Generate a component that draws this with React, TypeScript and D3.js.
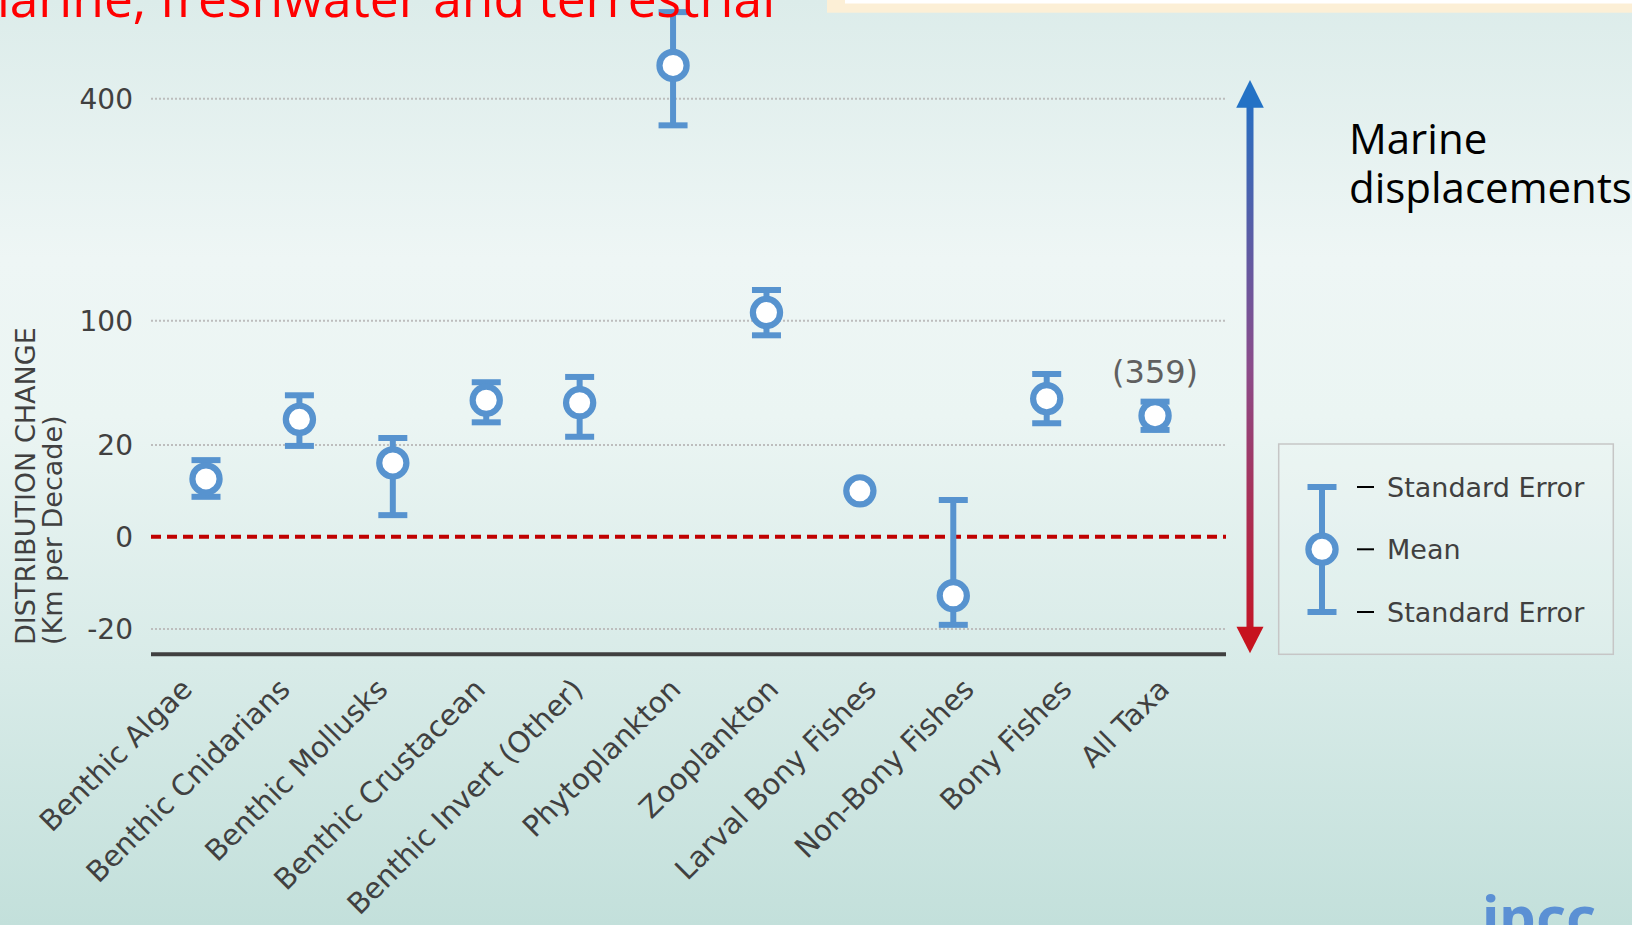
import React from "react";
import * as d3 from "d3";

// Marine taxa: mean range shift and standard error bounds (km per decade)
const categories = [
  "Benthic Algae",
  "Benthic Cnidarians",
  "Benthic Mollusks",
  "Benthic Crustacean",
  "Benthic Invert (Other)",
  "Phytoplankton",
  "Zooplankton",
  "Larval Bony Fishes",
  "Non-Bony Fishes",
  "Bony Fishes",
  "All Taxa",
];
const means = [12.6, 36.5, 16.1, 48.8, 47.2, 445, 111, 10.0, -12.8, 49.8, 38.9];
const seLow: (number | null)[] = [8.7, 19.8, 4.7, 34.6, 25.3, 364, 90.6, null, -19.1, 34.0, 29.7];
const seHigh: (number | null)[] = [16.7, 52, 24.5, 60.4, 63.8, 517, 141.5, null, 8.0, 65.7, 47.9];
const countLabels: (string | null)[] = [null, null, null, null, null, null, null, null, null, null, "(359)"];

// Axis ticks (the axis is stretched piecewise between these values)
const yTicks = [-20, 0, 20, 100, 400];
const yTickLabels = ["-20", "0", "20", "100", "400"];

const legendItems = ["Standard Error", "Mean", "Standard Error"];

const W = 1632;
const H = 925;
const LEFT = 151;
const RIGHT = 1226;
const AXIS_Y = 654.3;
const BLUE = "#5793cf";
const GREY_TEXT = "#404040";
const AXIS_FONT = "'DejaVu Sans', Verdana, sans-serif";
// extra spacing (in slots) that sets the pooled "All Taxa" estimate apart
const SUMMARY_GAP = 0.16;

export default function App() {
  const y = d3
    .scaleLinear()
    .domain(yTicks)
    .range([629, 536.7, 445, 320.7, 98.7]);

  const xLabel = d3.scaleBand().domain(categories).range([LEFT, RIGHT]);
  const lastGroup = categories.length - 2;
  const xSlot = d3.scaleLinear().domain([0, lastGroup]).range([206, 1046.7]);
  const xMark = (i: number) =>
    xSlot(i === categories.length - 1 ? i + SUMMARY_GAP : i);

  const rows = categories.map((c, i) => ({
    c,
    i,
    mean: means[i],
    lo: seLow[i],
    hi: seHigh[i],
    count: countLabels[i],
  }));

  const capHalf = 14.5;
  const r = 13.6;

  // legend symbol geometry
  const lgX = 1322;
  const lgTop = 487;
  const lgMid = 549.3;
  const lgBot = 612;
  const lgRows = [lgTop, lgMid, lgBot];

  return (
    <div style={{ position: "absolute", left: 0, top: 0, width: W, height: H, overflow: "hidden" }}>
      <svg width={W} height={H} style={{ display: "block" }}>
        <defs>
          <linearGradient id="bg" x1="0" y1="0" x2="0" y2="1">
            <stop offset="0" stopColor="#dcecea" />
            <stop offset="0.28" stopColor="#eef6f5" />
            <stop offset="0.45" stopColor="#ebf5f3" />
            <stop offset="0.72" stopColor="#d8ebe8" />
            <stop offset="1" stopColor="#c3e0db" />
          </linearGradient>
          <linearGradient id="arrowGrad" gradientUnits="userSpaceOnUse" x1="0" y1="80" x2="0" y2="653">
            <stop offset="0" stopColor="#1f71c6" />
            <stop offset="0.5" stopColor="#8b4c8b" />
            <stop offset="1" stopColor="#c8121f" />
          </linearGradient>
        </defs>

        <rect x={0} y={0} width={W} height={H} fill="url(#bg)" />

        {/* framed panel at top right */}
        <rect x={827} y={-120} width={900} height={132.7} fill="#fcefd6" />
        <rect x={845} y={-120} width={900} height={123.5} fill="#ffffff" />

        {/* grid lines */}
        {yTicks.map((t) =>
          t === 0 ? null : (
            <line
              key={`g${t}`}
              x1={LEFT}
              x2={RIGHT}
              y1={y(t)}
              y2={y(t)}
              stroke="#bdbdbd"
              strokeWidth={2}
              strokeDasharray="2,2"
            />
          )
        )}
        {/* zero line */}
        <line
          x1={LEFT}
          x2={RIGHT}
          y1={y(0)}
          y2={y(0)}
          stroke="#c00000"
          strokeWidth={4}
          strokeDasharray="10,6"
        />
        {/* baseline */}
        <line x1={LEFT} x2={RIGHT} y1={AXIS_Y} y2={AXIS_Y} stroke="#404040" strokeWidth={4} />

        {/* tick labels */}
        {yTicks.map((t, i) => (
          <text
            key={`t${t}`}
            x={133}
            y={y(t)}
            dy="0.36em"
            textAnchor="end"
            fontFamily={AXIS_FONT}
            fontSize={28}
            fill={GREY_TEXT}
          >
            {yTickLabels[i]}
          </text>
        ))}

        {/* axis title */}
        <text
          transform="translate(35,645) rotate(-90)"
          fontFamily={AXIS_FONT}
          fontSize={27}
          fill={GREY_TEXT}
        >
          DISTRIBUTION CHANGE
        </text>
        <text
          transform="translate(62,645) rotate(-90)"
          fontFamily={AXIS_FONT}
          fontSize={27}
          fill={GREY_TEXT}
        >
          (Km per Decade)
        </text>

        {/* category labels */}
        {categories.map((c) => {
          const cx = (xLabel(c) as number) + xLabel.bandwidth() / 2 - 6;
          return (
            <text
              key={`l${c}`}
              transform={`translate(${cx},691) rotate(-45)`}
              textAnchor="end"
              fontFamily={AXIS_FONT}
              fontSize={29}
              fill={GREY_TEXT}
            >
              {c}
            </text>
          );
        })}

        {/* error bars and means */}
        {rows.map((d) => {
          const cx = xMark(d.i);
          const cy = y(d.mean);
          return (
            <g key={`m${d.c}`}>
              {d.lo !== null && d.hi !== null && (
                <g stroke={BLUE} strokeWidth={6}>
                  <line x1={cx} x2={cx} y1={y(d.hi)} y2={y(d.lo)} />
                  <line x1={cx - capHalf} x2={cx + capHalf} y1={y(d.hi)} y2={y(d.hi)} />
                  <line x1={cx - capHalf} x2={cx + capHalf} y1={y(d.lo)} y2={y(d.lo)} />
                </g>
              )}
              <circle cx={cx} cy={cy} r={r} fill="#ffffff" stroke={BLUE} strokeWidth={6.2} />
              {d.count && (
                <text
                  x={cx}
                  y={cy - 32.4}
                  textAnchor="middle"
                  fontFamily={AXIS_FONT}
                  fontSize={32}
                  fill="#606060"
                >
                  {d.count}
                </text>
              )}
            </g>
          );
        })}

        {/* direction arrow */}
        <line x1={1250} x2={1250} y1={104} y2={630} stroke="url(#arrowGrad)" strokeWidth={7} />
        <path d="M1250,80 L1263.8,107.7 L1236.2,107.7 Z" fill="#2372c5" />
        <path d="M1250,653.3 L1263.5,626.7 L1236.5,626.7 Z" fill="#c7131f" />

        <text x={1349} y={154} fontFamily="'Open Sans', sans-serif" fontSize={42} fill="#000000">
          Marine
        </text>
        <text x={1349} y={203} fontFamily="'Open Sans', sans-serif" fontSize={42} fill="#000000">
          displacements
        </text>

        {/* legend */}
        <rect
          x={1278.7}
          y={444}
          width={334.6}
          height={210.3}
          fill="rgba(255,255,255,0.12)"
          stroke="#c6c6c6"
          strokeWidth={1.5}
        />
        <g stroke={BLUE} strokeWidth={6}>
          <line x1={lgX} x2={lgX} y1={lgTop} y2={lgBot} />
          <line x1={lgX - capHalf} x2={lgX + capHalf} y1={lgTop} y2={lgTop} />
          <line x1={lgX - capHalf} x2={lgX + capHalf} y1={lgBot} y2={lgBot} />
        </g>
        <circle cx={lgX} cy={lgMid} r={r} fill="#ffffff" stroke={BLUE} strokeWidth={6.2} />
        {legendItems.map((t, i) => (
          <g key={`lg${i}`}>
            <line x1={1357} x2={1374} y1={lgRows[i]} y2={lgRows[i]} stroke="#000000" strokeWidth={2} />
            <text
              x={1387}
              y={lgRows[i]}
              dy="0.36em"
              fontFamily={AXIS_FONT}
              fontSize={27}
              fill={GREY_TEXT}
            >
              {t}
            </text>
          </g>
        ))}

        {/* heading, partly outside the frame */}
        <text x={-38} y={17} fontFamily="'Open Sans', sans-serif" fontSize={51.5} fill="#ff0000">
          marine, freshwater and terrestrial
        </text>

        {/* logo text */}
        <text x={1482} y={938} fontFamily="'Noto Sans', sans-serif" fontWeight={700} fontSize={58} fill="#5b90d4">
          ipcc
        </text>
      </svg>
    </div>
  );
}
